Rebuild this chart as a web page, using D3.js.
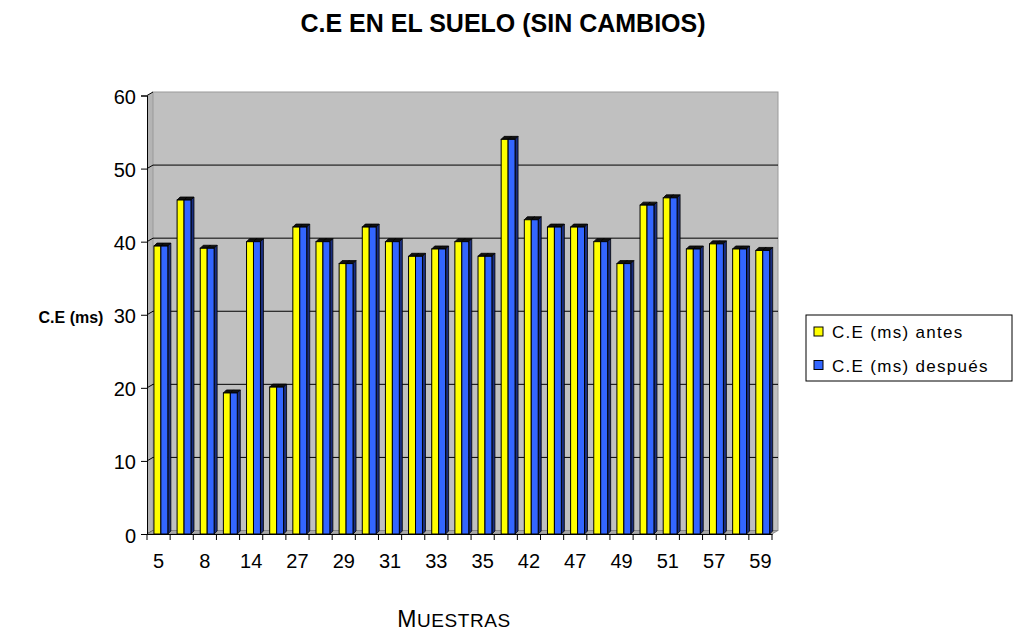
<!DOCTYPE html>
<html><head><meta charset="utf-8">
<script src="https://cdn.jsdelivr.net/npm/d3@7"></script>
<style>body{margin:0;background:#fff}svg{display:block}</style>
</head><body>
<svg id="c" width="1013" height="633"></svg>
<script>
const categories = ["5","6","8","10","14","20","27","28","29","30","31","32","33","34","35","38","42","45","47","48","49","50","51","54","57","58","59"];
const antes   = [39.4,45.7,39.1,19.3,40,20.1,42,40,37,42,40,38,39,40,38,54,43,42,42,40,37,45,46,39,39.7,39,38.8];
const despues = [39.4,45.7,39.1,19.3,40,20.1,42,40,37,42,40,38,39,40,38,54,43,42,42,40,37,45,46,39,39.7,39,38.8];
const seriesNames = ["C.E (ms) antes","C.E (ms) después"];
const seriesColors = ["#FFFF00","#3366FF"];
const yTicks = [0,10,20,30,40,50,60];

const svg = d3.select("#c");
const L = 147, R = 772, B = 534, T = 95.5;
const wdx = 6, wdy = -3.5;   // wall depth offset
const bdx = 3, bdy = -3;     // bar depth offset
const x0 = d3.scaleBand().domain(categories).range([L, R]).padding(0);
const x1 = d3.scaleBand().domain([0,1]).range([x0.bandwidth()*0.3, x0.bandwidth()*0.9]).padding(0);
const y = d3.scaleLinear().domain([0,60]).range([B, T]);
const font = "'Liberation Sans', Arial, sans-serif";
const pts = a => a.map(p=>p.join(",")).join(" ");

// side wall
svg.append("polygon").attr("points", pts([[L,B],[L,y(60)],[L+wdx,y(60)+wdy],[L+wdx,B+wdy]]))
  .attr("fill","#B4B4B4");
// back wall
svg.append("rect").attr("x", L+wdx).attr("y", y(60)+wdy).attr("width", R-L).attr("height", B-y(60))
  .attr("fill","#C0C0C0").attr("stroke","#9a9a9a").attr("stroke-width",1);
// gridlines on wall
svg.append("g").selectAll("line").data(yTicks.filter(d=>d>0 && d<60)).join("line")
  .attr("x1", L+wdx).attr("x2", R+wdx).attr("y1", d=>y(d)+wdy).attr("y2", d=>y(d)+wdy)
  .attr("stroke","#000").attr("stroke-width",1);
// side-wall diagonals
svg.append("g").selectAll("line").data(yTicks).join("line")
  .attr("x1", L).attr("y1", d=>y(d)).attr("x2", L+wdx).attr("y2", d=>y(d)+wdy)
  .attr("stroke","#000").attr("stroke-width",1);
// floor
svg.append("polygon").attr("points", pts([[L,B],[R,B],[R+wdx,B+wdy],[L+wdx,B+wdy]]))
  .attr("fill","#A8A8A8").attr("stroke","#808080").attr("stroke-width",0.8);

// bars
const data = categories.map((c,i)=>({c, v:[antes[i], despues[i]]}));
const gb = svg.append("g");
data.forEach(d=>{
  const g = gb.append("g");
  const xs = x0(d.c);
  const w = x1.bandwidth();
  [0,1].forEach(s=>{
    const xl = xs + x1(s), yt = y(d.v[s]);
    g.append("polygon").attr("points", pts([[xl,yt],[xl+w,yt],[xl+w+bdx,yt+bdy],[xl+bdx,yt+bdy]]))
      .attr("fill","#111").attr("stroke","#000").attr("stroke-width",0.8);
    g.append("polygon").attr("points", pts([[xl+w,yt],[xl+w+bdx,yt+bdy],[xl+w+bdx,B+bdy],[xl+w,B]]))
      .attr("fill", s===0 ? "#666600" : "#1a2e80").attr("stroke","#000").attr("stroke-width",0.8);
  });
  [0,1].forEach(s=>{
    const xl = xs + x1(s), yt = y(d.v[s]);
    g.append("rect").attr("x", xl).attr("y", yt).attr("width", w).attr("height", B-yt)
      .attr("fill", seriesColors[s]).attr("stroke","#000").attr("stroke-width",1);
  });
});

// y axis
const yAxis = d3.axisLeft(y).tickValues(yTicks).tickSize(6).tickPadding(5).tickFormat(d3.format("d"));
const ga = svg.append("g").attr("transform",`translate(${L},0)`).call(yAxis);
ga.select(".domain").attr("stroke","#000");
ga.selectAll("text").attr("font-family",font).attr("font-size",20).attr("fill","#000").attr("dy","0.4em");
// x axis
const xAxis = d3.axisBottom(x0).tickSize(0).tickFormat((d,i)=> i%2===0 ? d : "");
const gx = svg.append("g").attr("transform",`translate(0,${B})`).call(xAxis);
gx.select(".domain").attr("stroke","#000");
gx.selectAll("text").attr("font-family",font).attr("font-size",20).attr("fill","#000")
  .attr("y",34).attr("dy",0);
// x boundary ticks
svg.append("g").selectAll("line").data(d3.range(categories.length+1)).join("line")
  .attr("x1", i=>L+i*x0.step()).attr("x2", i=>L+i*x0.step()).attr("y1", B).attr("y2", B+6)
  .attr("stroke","#000");

// title
svg.append("text").attr("x",503).attr("y",31.5).attr("text-anchor","middle")
  .attr("font-family",font).attr("font-weight","bold")
  .attr("font-size",25).text("C.E EN EL SUELO (SIN CAMBIOS)");
// y title
svg.append("text").attr("x",71).attr("y",323).attr("text-anchor","middle")
  .attr("font-family",font).attr("font-weight","bold").attr("font-size",16).text("C.E (ms)");
// x title
const xt = svg.append("text").attr("x",454).attr("y",626.5).attr("text-anchor","middle")
  .attr("font-family",font).attr("font-size",23).attr("letter-spacing",0.6);
xt.append("tspan").text("M");
xt.append("tspan").attr("font-size",19).text("UESTRAS");

// legend
const lg = svg.append("g").attr("transform","translate(806,315)");
lg.append("rect").attr("width",206).attr("height",66).attr("fill","#fff").attr("stroke","#000");
seriesNames.forEach((n,i)=>{
  const yy = 16.5 + i*33.5;
  lg.append("rect").attr("x",8).attr("y",yy-4.5).attr("width",9).attr("height",9)
    .attr("fill",seriesColors[i]).attr("stroke","#000");
  lg.append("text").attr("x",26).attr("y",yy+6.5).attr("font-family",font).attr("font-size",17)
    .attr("letter-spacing",1.3).text(n);
});
</script>
</body></html>
